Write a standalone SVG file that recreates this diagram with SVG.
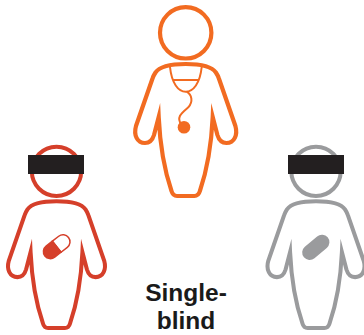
<svg xmlns="http://www.w3.org/2000/svg" width="364" height="335" viewBox="0 0 364 335">
<style>
.ln{fill:none;stroke:currentColor;stroke-width:4.2;stroke-miterlimit:10}
.thin{fill:none;stroke:currentColor;stroke-width:2}
.bar{fill:#231f20}
.orange{color:#f26b21}
.red{color:#d53f2a}
.gray{color:#9a9b9d}
text{font-family:"Liberation Sans",Arial,sans-serif;font-weight:700;font-size:24.5px;fill:#1a1a1a;text-anchor:middle}
</style>
<defs>
<g id="person">
<circle class="ln" cx="185.7" cy="32.8" r="25.7"/>
<path id="body" class="ln" d="M185.7 64C172 64 160 66 155.5 72.5C154.2 74.5 153.3 76 152.5 78.5L136 126C133.5 135 137 143 145 143C150 143 152.5 140 154 135L158.7 117C160 145 165 172 171.5 191C172.5 194.5 174.5 196 177 196L194.4 196C196.9 196 198.9 194.5 199.9 191C206.4 172 211.4 145 212.7 117L217.4 135C218.9 140 221.4 143 226.4 143C234.4 143 237.9 135 235.4 126L218.9 78.5C218.1 76 217.2 74.5 215.9 72.5C211.4 66 199.4 64 185.7 64Z"/>
</g>
</defs>
<g id="doctor" class="orange">
<use href="#person"/>
<path class="thin" d="M170 67C171.7 83.3 178.3 91.7 185.7 91.7C193.3 91.7 200 83.3 201.7 67M173 80H198.5"/>
<path class="thin" d="M186.7 91.7C192 95 193.3 101.7 188.3 107.3C183.3 111.7 175 116.7 181.7 125"/>
<circle cx="184" cy="127.3" r="6.3" fill="currentColor"/>
</g>
<g id="patient-red" class="red">
<g transform="translate(56.5 201.3) scale(.96) translate(-185.7 -64)"><use href="#person"/></g>
<g transform="translate(56.7 246.7) rotate(-38)">
<path d="M0 -7H-8A7 7 0 0 0 -8 7H0Z" fill="currentColor" stroke="currentColor" stroke-width="1.5"/>
<path d="M0 -7H8A7 7 0 0 1 8 7H0Z" fill="none" stroke="currentColor" stroke-width="1.5"/>
</g>
<rect class="bar" x="28" y="155" width="56" height="19"/>
</g>
<g id="patient-gray" class="gray">
<g transform="translate(316 201.3) scale(.96) translate(-185.7 -64)"><use href="#person"/></g>
<rect x="-15.5" y="-7.5" width="31" height="15" rx="7.5" fill="currentColor" transform="translate(315.8 247.3) rotate(-40)"/>
<rect class="bar" x="288" y="155" width="56" height="19"/>
</g>
<g id="label">
<text x="186" y="300.7">Single-</text>
<text x="186" y="329">blind</text>
</g>
</svg>
